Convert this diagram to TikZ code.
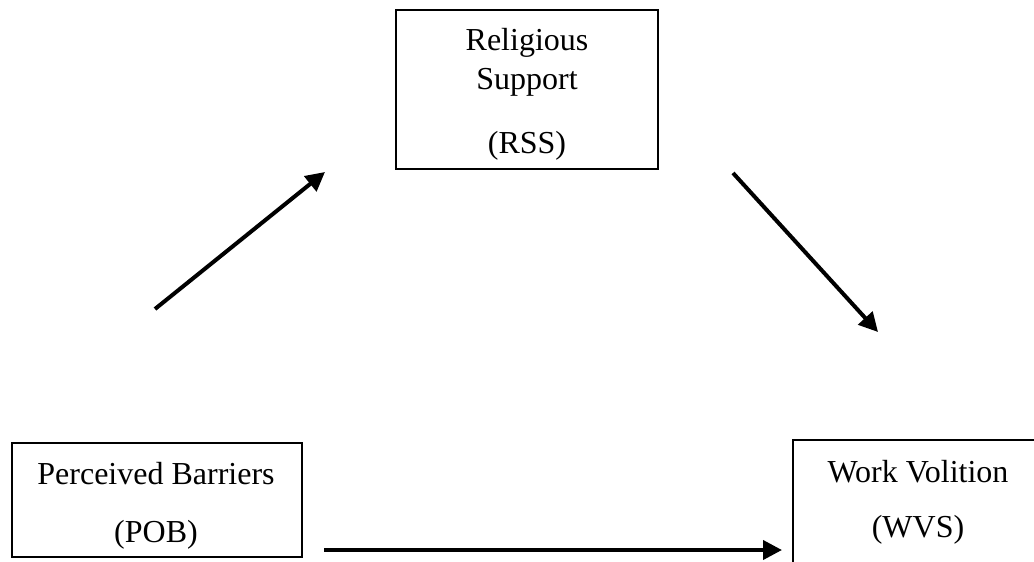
\documentclass[tikz,border=0pt]{standalone}
\usepackage{fontspec}
\setmainfont{Liberation Serif}
\usetikzlibrary{arrows.meta}
\tikzset{
  boxnode/.style={draw=black, line width=2.6pt, rectangle, inner sep=0pt},
  lbl/.style={anchor=base, inner sep=0pt, font=\fontsize{32}{38}\selectfont},
  conn/.style={line width=4pt, -{Triangle[length=19pt,width=19pt]}}
}
\begin{document}
\begin{tikzpicture}[x=1pt,y=-1pt]
\useasboundingbox (0,0) rectangle (1034,562);
\clip (0,0) rectangle (1034,562);
% boxes
\node[boxnode, minimum width=262pt, minimum height=159pt] (rss) at (527,89.5) {};
\node[boxnode, minimum width=290pt, minimum height=114pt] (pob) at (157,500) {};
\node[boxnode, minimum width=260pt, minimum height=160pt] (wvs) at (923,520) {};
% labels
\node[lbl] (rss1) at (527,50) {Religious};
\node[lbl] (rss2) at (527,89) {Support};
\node[lbl] (rss3) at (527,153) {(RSS)};
\node[lbl] (pob1) at (156,484) {Perceived Barriers};
\node[lbl] (pob2) at (156,542) {(POB)};
\node[lbl] (wvs1) at (918,482) {Work Volition};
\node[lbl] (wvs2) at (918,537) {(WVS)};
% connector end points
\coordinate (a1s) at (155,309);
\coordinate (a1e) at (325,172);
\coordinate (a2s) at (733,173);
\coordinate (a2e) at (878,332);
\coordinate (a3s) at (324,550);
\coordinate (a3e) at (782,550);
\draw[conn] (a1s) -- (a1e);
\draw[conn] (a2s) -- (a2e);
\draw[conn] (a3s) -- (a3e);
\end{tikzpicture}
\end{document}
